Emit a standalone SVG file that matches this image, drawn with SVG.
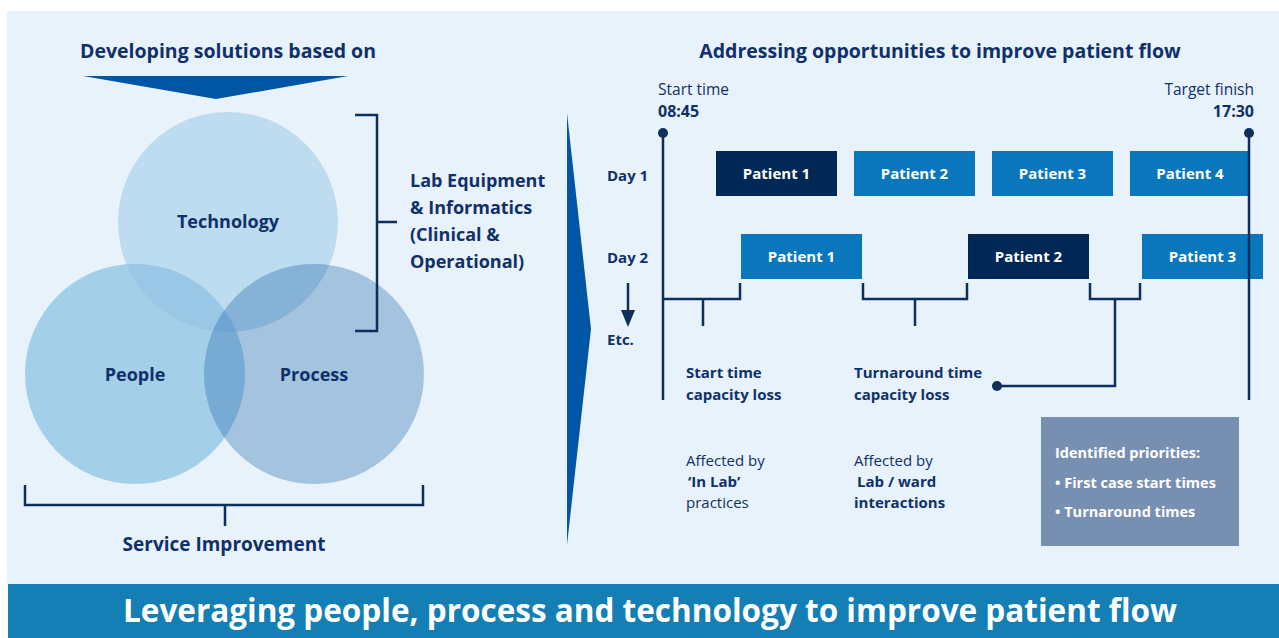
<svg xmlns="http://www.w3.org/2000/svg" width="1279" height="638" viewBox="0 0 1279 638">
  <style>
    .t { font-family: "Open Sans", "Noto Sans", sans-serif; fill: #10306a; }
    .b { font-weight: 700; }
    .w { fill: #ffffff; }
    .ln { fill: none; stroke: #0c2f5c; stroke-width: 2.5; }
    .box-dark { fill: #002855; }
    .box-blue { fill: #0a77bd; }
  </style>
  <defs>
    <clipPath id="clipTech"><circle cx="228" cy="222" r="110"/></clipPath>
    <clipPath id="clipPeople"><circle cx="135" cy="374" r="110"/></clipPath>
    <clipPath id="clipProcess"><circle cx="314" cy="374" r="110"/></clipPath>
  </defs>

  <!-- page background -->
  <rect x="0" y="0" width="1279" height="638" fill="#ffffff"/>
  <rect x="7" y="11" width="1272" height="574" fill="#e8f2fa"/>

  <!-- left half: venn -->
  <g id="title-left">
    <text class="t b" x="228" y="58" font-size="19.5" text-anchor="middle">Developing solutions based on</text>
    <polygon points="83,76 348,76 216,99" fill="#0055a5"/>
  </g>

  <g id="venn">
    <circle cx="228" cy="222" r="110" fill="#bddcf0"/>
    <circle cx="135" cy="374" r="110" fill="#a3cfe8"/>
    <circle cx="314" cy="374" r="110" fill="#a4c3df"/>
    <g clip-path="url(#clipTech)">
      <circle cx="135" cy="374" r="110" fill="#9bc7e6"/>
      <circle cx="314" cy="374" r="110" fill="#86b2d8"/>
    </g>
    <g clip-path="url(#clipPeople)">
      <circle cx="314" cy="374" r="110" fill="#77abd4"/>
      <g clip-path="url(#clipTech)">
        <circle cx="314" cy="374" r="110" fill="#6fa5d2"/>
      </g>
    </g>
  </g>
  <g id="node-technology">
    <text class="t b" x="228" y="228" font-size="18" text-anchor="middle">Technology</text>
  </g>
  <g id="node-people">
    <text class="t b" x="135" y="381" font-size="18" text-anchor="middle">People</text>
  </g>
  <g id="node-process">
    <text class="t b" x="314" y="381" font-size="18" text-anchor="middle">Process</text>
  </g>
  <g id="label-lab">
    <text class="t b" x="410" y="187" font-size="18">Lab Equipment</text>
    <text class="t b" x="410" y="214" font-size="18">&amp; Informatics</text>
    <text class="t b" x="410" y="241" font-size="18">(Clinical &amp;</text>
    <text class="t b" x="410" y="268" font-size="18">Operational)</text>
  </g>
  <g id="label-service">
    <text class="t b" x="224" y="551" font-size="19" text-anchor="middle">Service Improvement</text>
  </g>

  <!-- divider chevron -->
  <polygon points="567,113 591,329 567,545" fill="#0055a5"/>

  <!-- right half: timeline -->
  <g id="title-right">
    <text class="t b" x="940" y="58" font-size="19.5" text-anchor="middle">Addressing opportunities to improve patient flow</text>
  </g>
  <g id="time-labels">
    <text class="t" x="658" y="95" font-size="15.5">Start time</text>
    <text class="t b" x="658" y="117" font-size="16">08:45</text>
    <text class="t" x="1254" y="95" font-size="15.5" text-anchor="end">Target finish</text>
    <text class="t b" x="1254" y="117" font-size="16" text-anchor="end">17:30</text>
  </g>
  <g id="day-labels">
    <text class="t b" x="607" y="181" font-size="15">Day 1</text>
    <text class="t b" x="607" y="263" font-size="15">Day 2</text>
    <text class="t b" x="607" y="345" font-size="15">Etc.</text>
  </g>

  <g id="day1-patient1">
    <rect class="box-dark" x="716" y="151" width="121" height="45"/>
    <text class="t b w" x="776.5" y="179" font-size="15" text-anchor="middle">Patient 1</text>
  </g>
  <g id="day1-patient2">
    <rect class="box-blue" x="854" y="151" width="121" height="45"/>
    <text class="t b w" x="914.5" y="179" font-size="15" text-anchor="middle">Patient 2</text>
  </g>
  <g id="day1-patient3">
    <rect class="box-blue" x="992" y="151" width="121" height="45"/>
    <text class="t b w" x="1052.5" y="179" font-size="15" text-anchor="middle">Patient 3</text>
  </g>
  <g id="day1-patient4">
    <rect class="box-blue" x="1130" y="151" width="120" height="45"/>
    <text class="t b w" x="1190" y="179" font-size="15" text-anchor="middle">Patient 4</text>
  </g>
  <g id="day2-patient1">
    <rect class="box-blue" x="741" y="234" width="121" height="45"/>
    <text class="t b w" x="801.5" y="262" font-size="15" text-anchor="middle">Patient 1</text>
  </g>
  <g id="day2-patient2">
    <rect class="box-dark" x="968" y="234" width="121" height="45"/>
    <text class="t b w" x="1028.5" y="262" font-size="15" text-anchor="middle">Patient 2</text>
  </g>
  <g id="day2-patient3">
    <rect class="box-blue" x="1142" y="234" width="121" height="45"/>
    <text class="t b w" x="1202.5" y="262" font-size="15" text-anchor="middle">Patient 3</text>
  </g>

  <g id="label-start-loss">
    <text class="t b" x="686" y="378" font-size="15">Start time</text>
    <text class="t b" x="686" y="400" font-size="15">capacity loss</text>
  </g>
  <g id="label-turnaround-loss">
    <text class="t b" x="854" y="378" font-size="15">Turnaround time</text>
    <text class="t b" x="854" y="400" font-size="15">capacity loss</text>
  </g>
  <g id="label-inlab">
    <text class="t" x="686" y="466" font-size="15">Affected by</text>
    <text class="t b" x="688" y="487" font-size="15">‘In Lab’</text>
    <text class="t" x="686" y="508" font-size="15">practices</text>
  </g>
  <g id="label-ward">
    <text class="t" x="854" y="466" font-size="15">Affected by</text>
    <text class="t b" x="857" y="487" font-size="15">Lab / ward</text>
    <text class="t b" x="854" y="508" font-size="15">interactions</text>
  </g>

  <g id="priorities">
    <rect x="1041" y="417" width="198" height="129" fill="#7790b1"/>
    <text class="t b w" x="1055" y="458" font-size="14.5">Identified priorities:</text>
    <text class="t b w" x="1055" y="488" font-size="14.5">• First case start times</text>
    <text class="t b w" x="1055" y="517" font-size="14.5">• Turnaround times</text>
  </g>

  <!-- connectors: brackets, time lines, arrow -->
  <g id="connectors">
    <!-- bracket round the technology circle -->
    <path class="ln" d="M355,115 H377 V331 H355 M377,222 H397"/>
    <!-- bracket under the venn -->
    <path class="ln" d="M25,485 V505 H423 V485 M225,505 V526"/>
    <!-- start and finish time lines -->
    <line class="ln" x1="663" y1="133" x2="663" y2="400"/>
    <circle cx="663" cy="133" r="5" fill="#0c2f5c"/>
    <line class="ln" x1="1249" y1="133" x2="1249" y2="400"/>
    <circle cx="1249" cy="133" r="5" fill="#0c2f5c"/>
    <!-- day progression arrow -->
    <line class="ln" x1="628" y1="283" x2="628" y2="313"/>
    <polygon points="621,310 635,310 628,327" fill="#0c2f5c"/>
    <!-- capacity loss brackets -->
    <path class="ln" d="M663,299 H740 V283 M703,299 V326"/>
    <path class="ln" d="M863,283 V299 H967 V283 M915,299 V326"/>
    <path class="ln" d="M1090,283 V299 H1140 V283 M1115,299 V386 H997"/>
    <circle cx="997" cy="386" r="5" fill="#0c2f5c"/>
  </g>

  <!-- footer banner -->
  <g id="banner">
    <rect x="8" y="584" width="1271" height="54" fill="#137fb5"/>
    <text class="t b w" x="650" y="622" font-size="31.5" text-anchor="middle">Leveraging people, process and technology to improve patient flow</text>
  </g>
</svg>
